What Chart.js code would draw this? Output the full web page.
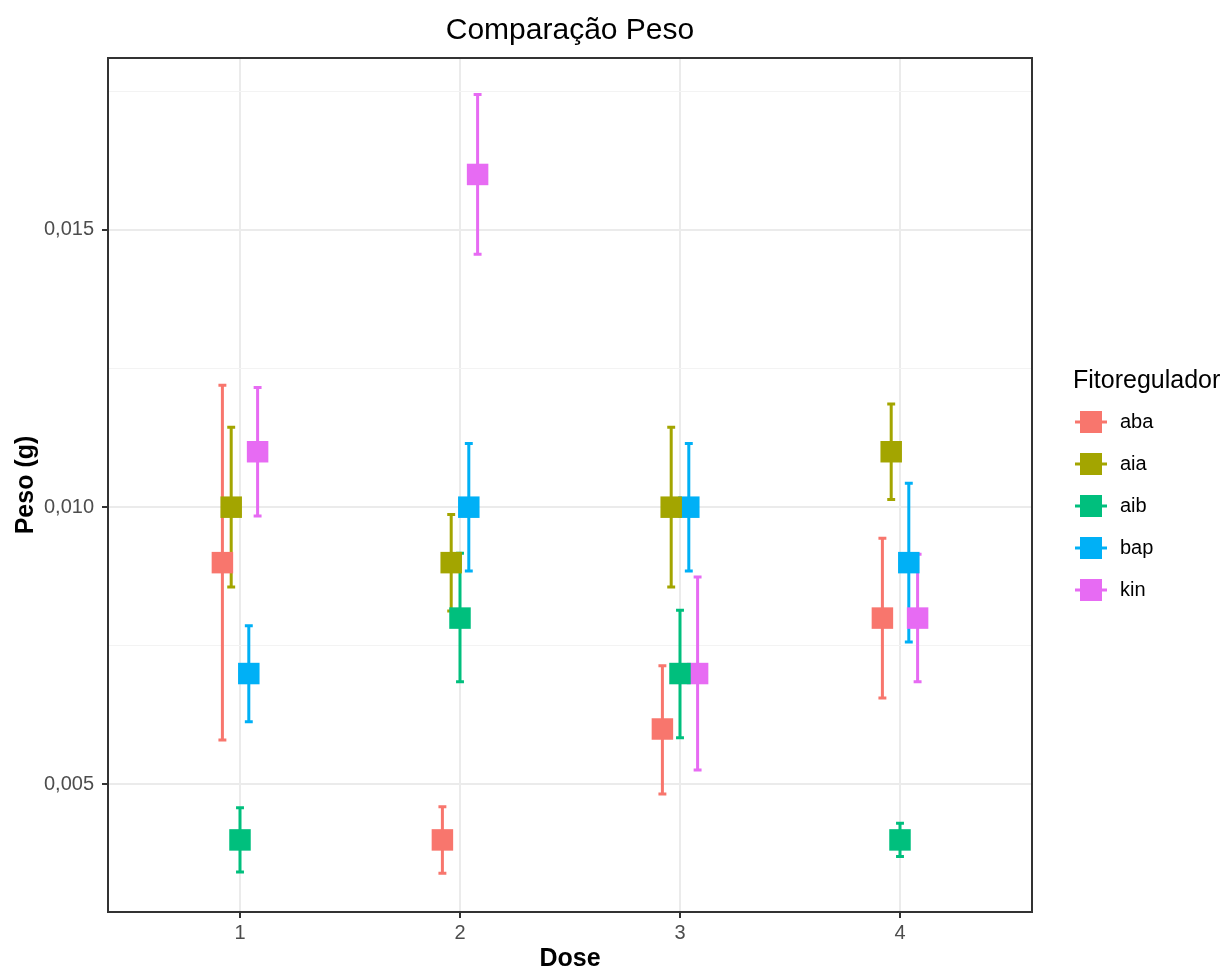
<!DOCTYPE html>
<html>
<head>
<meta charset="utf-8">
<title>Comparação Peso</title>
<script src="https://cdn.jsdelivr.net/npm/chart.js@4.4.1/dist/chart.umd.min.js"></script>
<style>
    html, body { margin: 0; padding: 0; background: #ffffff; }
    #grafico { display: block; }
</style>
</head>
<body>
<canvas id="grafico" width="1225" height="970"></canvas>
<script>
// doses (eixo x) e os fitoreguladores
const doses = [1, 2, 3, 4];
const fitoreguladores = ['aba', 'aia', 'aib', 'bap', 'kin'];
const cores = ['#F8766D', '#A3A500', '#00BF7D', '#00B0F6', '#E76BF3'];

// peso medio (g) por dose
const pesoAba = [0.0090, 0.0040, 0.0060, 0.0080];
const pesoAia = [0.0100, 0.0090, 0.0100, 0.0110];
const pesoAib = [0.0040, 0.0080, 0.0070, 0.0040];
const pesoBap = [0.0070, 0.0100, 0.0100, 0.0090];
const pesoKin = [0.0110, 0.0160, 0.0070, 0.0080];

// limites das barras de erro
const infAba = [0.0058, 0.0034, 0.00483, 0.00656];
const supAba = [0.0122, 0.0046, 0.00714, 0.00944];
const infAia = [0.00856, 0.00813, 0.00856, 0.01014];
const supAia = [0.01144, 0.00987, 0.01144, 0.01186];
const infAib = [0.00342, 0.00685, 0.00584, 0.0037];
const supAib = [0.00458, 0.00917, 0.00814, 0.0043];
const infBap = [0.00613, 0.00885, 0.00885, 0.00757];
const supBap = [0.00786, 0.01115, 0.01115, 0.01043];
const infKin = [0.00984, 0.01456, 0.00526, 0.00685];
const supKin = [0.01216, 0.01744, 0.00874, 0.00915];

// ticks do eixo y (maiores com rotulo, menores so com grade)
const ticksY = [0.005, 0.0075, 0.010, 0.0125, 0.015, 0.0175];

const fonte = "'Liberation Sans', Arial, sans-serif";
const deslocamento = 0.04;   // dodge entre grupos
const larguraCap = 0.036;

function ehMaior(v) {
    return Math.abs(v / 0.005 - Math.round(v / 0.005)) < 1e-6;
}

// barras de erro por baixo dos quadrados
const barrasErro = {
    id: 'barrasErro',
    beforeDatasetsDraw(chart) {
        let ctx = chart.ctx;
        let sx = chart.scales.x;
        let sy = chart.scales.y;

        chart.data.datasets.forEach((ds) => {
            ctx.save();
            ctx.strokeStyle = ds.borderColor;
            ctx.lineWidth = 3;
            ctx.lineCap = 'butt';
            ds.data.forEach((p, i) => {
                let px = sx.getPixelForValue(p.x);
                let x0 = sx.getPixelForValue(p.x - larguraCap / 2);
                let x1 = sx.getPixelForValue(p.x + larguraCap / 2);
                let yTopo = sy.getPixelForValue(ds.superior[i]);
                let yBase = sy.getPixelForValue(ds.inferior[i]);
                ctx.beginPath();
                ctx.moveTo(px, yTopo);
                ctx.lineTo(px, yBase);
                ctx.moveTo(x0, yTopo);
                ctx.lineTo(x1, yTopo);
                ctx.moveTo(x0, yBase);
                ctx.lineTo(x1, yBase);
                ctx.stroke();
            });
            ctx.restore();
        });
    }
};

// moldura do painel (theme_bw)
const bordaPainel = {
    id: 'bordaPainel',
    afterDatasetsDraw(chart) {
        let a = chart.chartArea;
        let ctx = chart.ctx;
        ctx.save();
        ctx.strokeStyle = '#333333';
        ctx.lineWidth = 2;
        ctx.strokeRect(a.left, a.top, a.right - a.left, a.bottom - a.top);
        ctx.restore();
    }
};

// legenda a direita, no estilo do ggplot
const legendaLateral = {
    id: 'legendaLateral',
    afterDraw(chart) {
        let ctx = chart.ctx;
        let xEsq = 1075;
        ctx.save();
        ctx.fillStyle = '#000000';
        ctx.textBaseline = 'middle';
        ctx.textAlign = 'left';
        ctx.font = '25px ' + fonte;
        ctx.fillText('Fitoregulador', xEsq - 2, 381);

        ctx.font = '20px ' + fonte;
        chart.data.datasets.forEach((ds, i) => {
            let cy = 422 + i * 42;
            let cx = xEsq + 16;
            ctx.strokeStyle = ds.borderColor;
            ctx.lineWidth = 3;
            ctx.beginPath();
            ctx.moveTo(xEsq, cy);
            ctx.lineTo(xEsq + 32, cy);
            ctx.stroke();
            ctx.fillStyle = ds.backgroundColor;
            ctx.fillRect(cx - 11, cy - 11, 22, 22);
            ctx.fillStyle = '#000000';
            ctx.fillText(ds.label, xEsq + 45, cy);
        });
        ctx.restore();
    }
};

function inicializar() {
    let medias = [pesoAba, pesoAia, pesoAib, pesoBap, pesoKin];
    let inferiores = [infAba, infAia, infAib, infBap, infKin];
    let superiores = [supAba, supAia, supAib, supBap, supKin];

    let datasets = fitoreguladores.map((nome, g) => {
        return {
            label: nome,
            data: doses.map((d, i) => ({ x: d + (g - 2) * deslocamento, y: medias[g][i] })),
            inferior: inferiores[g],
            superior: superiores[g],
            backgroundColor: cores[g],
            borderColor: cores[g],
            borderWidth: 0,
            pointStyle: 'rect',
            pointRadius: 15.2
        };
    });

    new Chart(document.getElementById('grafico'), {
        type: 'scatter',
        data: { datasets: datasets },
        options: {
            responsive: false,
            animation: false,
            events: [],
            layout: { padding: { left: 0, right: 193, top: 0, bottom: 0 } },
            scales: {
                x: {
                    type: 'linear',
                    min: 0.4,
                    max: 4.6,
                    afterBuildTicks: (s) => { s.ticks = doses.map(v => ({ value: v })); },
                    afterFit: (s) => { s.height = 58; },
                    border: { display: false },
                    grid: { color: '#EBEBEB', lineWidth: 2, tickLength: 6, tickColor: '#333333', tickWidth: 2 },
                    ticks: {
                        font: { family: fonte, size: 20 },
                        color: '#4D4D4D',
                        padding: 3,
                        maxRotation: 0,
                        callback: (v) => String(v)
                    },
                    title: {
                        display: true,
                        text: 'Dose',
                        color: '#000000',
                        font: { family: fonte, size: 25, weight: 'bold', lineHeight: 0.9 },
                        padding: { top: 0, bottom: 0 }
                    }
                },
                y: {
                    type: 'linear',
                    min: 0.0027,
                    max: 0.0181,
                    afterBuildTicks: (s) => { s.ticks = ticksY.map(v => ({ value: v })); },
                    afterFit: (s) => { s.width = 108; },
                    border: { display: false },
                    grid: {
                        color: (c) => ehMaior(c.tick.value) ? '#EBEBEB' : '#F3F3F3',
                        lineWidth: (c) => ehMaior(c.tick.value) ? 2 : 1,
                        tickLength: 6,
                        tickColor: (c) => ehMaior(c.tick.value) ? '#333333' : 'rgba(0,0,0,0)',
                        tickWidth: 2
                    },
                    ticks: {
                        font: { family: fonte, size: 20 },
                        color: '#4D4D4D',
                        padding: 8,
                        callback: (v) => ehMaior(v) ? v.toFixed(3).replace('.', ',') : ''
                    },
                    title: {
                        display: true,
                        text: 'Peso (g)',
                        color: '#000000',
                        font: { family: fonte, size: 25, weight: 'bold' },
                        padding: { top: 11, bottom: 0 }
                    }
                }
            },
            plugins: {
                legend: { display: false },
                tooltip: { enabled: false },
                title: {
                    display: true,
                    fullSize: false,
                    text: 'Comparação Peso',
                    color: '#000000',
                    font: { family: fonte, size: 30, weight: 'normal' },
                    padding: { top: 13, bottom: 9 }
                }
            }
        },
        plugins: [barrasErro, bordaPainel, legendaLateral]
    });
}

inicializar();
</script>
</body>
</html>
